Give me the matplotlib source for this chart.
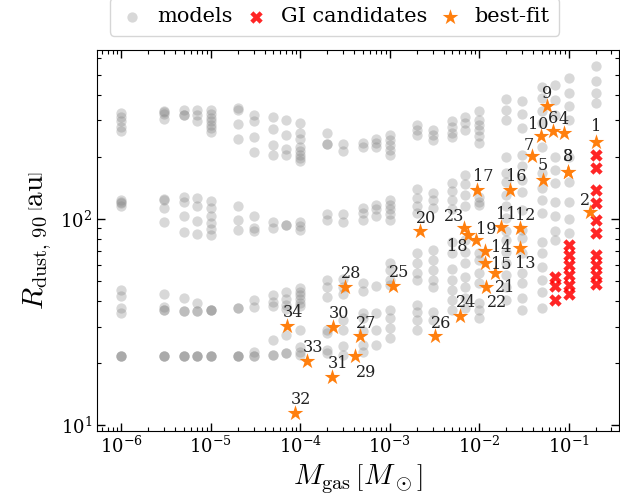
import numpy as np
import matplotlib
matplotlib.use("Agg")
import matplotlib.pyplot as plt

plt.rcParams['font.family'] = 'serif'
plt.rcParams['font.serif'] = ['DejaVu Serif']
plt.rcParams['mathtext.fontset'] = 'cm'

# model grid: gas mass columns and the dust radii found at each
model_mgas = [1e-6, 3e-6, 5e-6, 7e-6, 1e-5, 2e-5, 3e-5, 5e-5, 7e-5, 1e-4,
              2e-4, 3e-4, 5e-4, 7e-4, 1e-3, 2e-3, 3e-3, 5e-3, 7e-3, 1e-2,
              2e-2, 3e-2, 5e-2, 7e-2, 0.1, 0.2]
model_rdust = [
    [326, 312, 297, 280, 268, 124, 121, 119, 115, 45.2, 42.3, 36.9, 35.1, 21.6, 21.6, 21.6],
    [334, 330, 324, 305, 125, 124, 113, 97, 43.3, 37.2, 36.1, 36.1, 21.6, 21.6, 21.6],
    [336, 320, 318, 127, 120, 103, 86.7, 41.2, 35.9, 35.9, 21.6, 21.6, 21.6],
    [336, 320, 297, 126, 116, 97.8, 84.3, 38.9, 35.9, 35.9, 21.6, 21.6, 21.6],
    [338, 324, 308, 297, 286, 275, 263, 122, 113, 103, 95.3, 89.1, 83.6,
     36.1, 36.1, 36.1, 21.6, 21.6, 21.6],
    [344, 336, 289, 244, 116, 98.9, 88.4, 36.8, 36.8, 21.6, 21.6, 21.6],
    [320, 297, 248, 211, 103, 90, 86.8, 40.4, 37.2, 22.6, 21.6, 21.6],
    [312, 272, 228, 203, 96, 90, 42.8, 39.7, 37.8, 25.9, 21.9, 21.9],
    [303, 254, 219, 205, 93.6, 93.6, 44.4, 40.7, 38.3, 36.5, 27.4, 22.3, 22.3],
    [293, 261, 244, 224, 214, 205, 197, 190, 96, 91.8, 88.4, 46.1, 44.4, 42.8,
     40.7, 39.2, 37.8, 28.9, 24, 22.7, 21.9],
    [262, 231, 231, 106, 98.9, 50.6, 46.9, 42, 28.9, 27.9, 23.1, 22.3],
    [231, 214, 106, 96, 50.9, 46.9, 43.3, 32.3, 28.9, 24.2, 21.9],
    [233, 224, 113, 107, 99, 48.7, 44.9, 35.1, 33, 28.6, 24.4, 22.7],
    [244, 233, 224, 117, 111, 103, 47.3, 35.1, 28.9, 24.4],
    [256, 242, 229, 216, 205, 124, 117, 111, 105, 99, 61.4, 56.5, 50.6, 47.8,
     36.1, 33, 29.4, 26.4],
    [286, 270, 256, 139, 126, 115, 107, 68.1, 61.4, 54.5, 50.6, 38.3, 35.5, 32.3, 28.9],
    [270, 256, 242, 133, 124, 113, 70.8, 63.3, 56.5, 50.6, 46.9, 35.5, 32.3],
    [297, 279, 262, 249, 149, 136, 124, 111, 77.6, 68.1, 57, 50.6, 45.2, 40.4, 36.1],
    [312, 292, 270, 164, 148, 131, 115, 79, 69.4, 60.9, 52.5, 46.9, 41.2, 36.8],
    [332, 303, 286, 270, 251, 233, 128, 121, 117, 68, 63.3, 54.5, 48.7, 39, 36.1, 33],
    [381, 336, 303, 200, 167, 150, 131, 115, 101, 86.8, 78.5, 69.4, 60.9, 53.5, 46.9, 40.4],
    [371, 324, 275, 205, 180, 155, 135, 110, 88.4, 80.5, 68, 54.5, 48.7, 41.2, 36.1],
    [438, 385, 332, 292, 224, 167, 141, 124, 107, 77.6, 68, 58.7, 50.6, 44.4, 36.8],
    [447, 375, 320, 200, 173, 149, 121, 103, 86.8, 79],
    [482, 408, 351, 300, 200, 150, 120, 100, 85],
    [553, 464, 408, 365],
]

# gravitationally unstable models
gi_mgas = [0.07, 0.07, 0.07,
           0.1, 0.1, 0.1, 0.1, 0.1, 0.1,
           0.2, 0.2, 0.2, 0.2, 0.2, 0.2, 0.2, 0.2, 0.2, 0.2]
gi_rdust = [52, 47, 40.4,
            75, 67, 60, 53.5, 48, 43,
            205, 176, 138, 119, 99, 85.3, 67, 60, 53.5, 48.2]

# best-fit model for each source
fit_id = list(range(1, 35))
fit_mgas = [0.2, 0.174, 0.0977, 0.0881, 0.0514, 0.0664, 0.039, 0.0977, 0.0569, 0.0493,
            0.0173, 0.0282, 0.0282, 0.0115, 0.0117, 0.0222, 0.0094, 0.00746, 0.0091, 0.00219,
            0.0149, 0.0120, 0.00668, 0.00614, 0.00108, 0.00322, 0.000468, 0.000313, 0.000405,
            0.000234, 0.000228, 8.79e-5, 0.00012, 7.08e-5]
fit_rdust = [237, 108, 169, 262, 155, 268, 201, 169, 351, 251,
             91.2, 90, 72.1, 70.2, 60.9, 138, 138, 83.6, 79, 86.8,
             54.5, 46.9, 90, 33.8, 47.3, 27, 26.9, 46.9, 21.6,
             30.0, 17.1, 11.5, 20.5, 30.3]

# label offsets (pixels) where the default would collide
label_offset = {1: (0, 15), 2: (-5, 11), 4: (0, 13), 5: (0, 14), 6: (0, 12),
                7: (-3, 11), 8: (0, 15), 3: (0, 15), 9: (0, 13), 10: (-3, 12),
                13: (6, -15), 14: (16, 3), 15: (16, -1), 18: (-11, -12),
                19: (11, 10), 21: (10, -14), 22: (11, -16), 23: (-9, 12),
                29: (11, -16)}

fig = plt.figure(figsize=(6.2, 5.03), dpi=100)
ax = fig.add_axes([0.156, 0.143, 0.842, 0.758])

mx = np.concatenate([[m] * len(r) for m, r in zip(model_mgas, model_rdust)])
my = np.concatenate(model_rdust)
ax.scatter(mx, my, s=55, color='grey', alpha=0.3, lw=0, label='models')
ax.scatter(gi_mgas, gi_rdust, s=80, marker='X', color='red', alpha=0.85, lw=0,
           label='GI candidates')
ax.scatter(fit_mgas, fit_rdust, s=140, marker='*', color='C1', lw=0,
           label='best-fit', zorder=3)

for i, x, y in zip(fit_id, fit_mgas, fit_rdust):
    dx, dy = label_offset.get(i, (6, 13))
    ax.annotate(str(i), (x, y), xytext=(dx, dy), textcoords='offset pixels',
                ha='center', va='center', fontsize=11.5, color='#222222')

ax.set_xscale('log')
ax.set_yscale('log')
ax.set_xlim(5.3e-7, 0.362)
ax.set_ylim(9.35, 660)
ax.set_xlabel(r'$M_{\rm gas}\,\left[M_\odot\right]$', fontsize=21)
ax.set_ylabel(r'$R_{\rm dust,\,90}\,\left[{\rm au}\right]$', fontsize=21)
ax.tick_params(which='both', direction='in', top=True, right=True, labelsize=13)
ax.tick_params(which='major', length=6, width=1)
ax.tick_params(which='minor', length=3, width=0.8)
ax.set_xticks([1e-6, 1e-5, 1e-4, 1e-3, 1e-2, 1e-1])
ax.legend(loc='lower center', bbox_to_anchor=(0.456, 1.01), ncol=3, fontsize=15,
          handlelength=1.2, handletextpad=0.6, columnspacing=0.5, borderpad=0.45)

fig.savefig('out.png', dpi=100)
